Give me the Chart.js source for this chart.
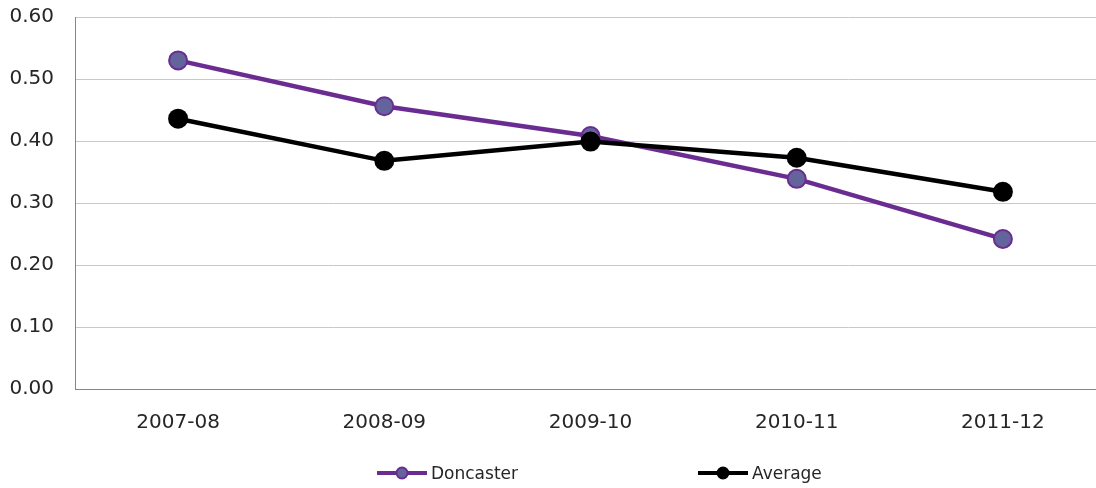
<!DOCTYPE html>
<html>
<head>
<meta charset="utf-8">
<script src="https://cdn.jsdelivr.net/npm/chart.js@4.4.1/dist/chart.umd.min.js"></script>
<style>
html, body { margin: 0; padding: 0; background: #fff; overflow: hidden; }
</style>
</head>
<body>
<canvas id="chart" width="1117" height="488"></canvas>
<script>
// Categories and series
const seasons = ['2007-08', '2008-09', '2009-10', '2010-11', '2011-12'];
const doncaster = [0.530, 0.456, 0.408, 0.339, 0.242];
const average = [0.436, 0.368, 0.399, 0.373, 0.318];
const yMin = 0;
const yMax = 0.6;
const yStep = 0.1;

const textColor = '#262626';
const axisFont = { family: '"DejaVu Sans", Verdana, sans-serif', size: 20 };

// Excel-style legend: line sample with a marker, label right after it
const legendKeys = {
    id: 'legendKeys',
    afterDraw(chart) {
        const ctx = chart.ctx;
        const y = 473;
        const starts = [377, 698];
        chart.data.datasets.forEach(function (ds, i) {
            const x = starts[i];
            ctx.save();
            ctx.strokeStyle = ds.borderColor;
            ctx.lineWidth = 4;
            ctx.beginPath();
            ctx.moveTo(x, y);
            ctx.lineTo(x + 50, y);
            ctx.stroke();
            ctx.beginPath();
            ctx.arc(x + 25, y, 5.5, 0, Math.PI * 2);
            ctx.fillStyle = ds.pointBackgroundColor;
            ctx.fill();
            ctx.lineWidth = 2;
            ctx.strokeStyle = ds.pointBorderColor;
            ctx.stroke();
            ctx.font = '17px "DejaVu Sans", Verdana, sans-serif';
            ctx.fillStyle = textColor;
            ctx.textBaseline = 'middle';
            ctx.fillText(ds.label, x + 54, y + 2);
            ctx.restore();
        });
    }
};

new Chart(document.getElementById('chart'), {
    type: 'line',
    data: {
        labels: seasons,
        datasets: [
            {
                label: 'Doncaster',
                data: doncaster,
                borderColor: '#6b2c91',
                borderWidth: 4.5,
                pointRadius: 9,
                pointBorderWidth: 2,
                pointBackgroundColor: '#64649c',
                pointBorderColor: '#6b2c91',
                tension: 0,
                order: 1
            },
            {
                label: 'Average',
                data: average,
                borderColor: '#000000',
                borderWidth: 4.5,
                pointRadius: 10,
                pointBorderWidth: 0,
                pointBackgroundColor: '#000000',
                pointBorderColor: '#000000',
                tension: 0,
                order: 0
            }
        ]
    },
    options: {
        responsive: false,
        animation: false,
        layout: { padding: { top: 0, right: 3, bottom: 53, left: 0 } },
        plugins: {
            legend: { display: false },
            tooltip: { enabled: false }
        },
        scales: {
            x: {
                offset: true,
                afterFit: function (scale) {
                    scale.height = 46;
                    scale.paddingLeft = 0;
                    scale.paddingRight = 0;
                },
                grid: { display: false, drawTicks: false },
                border: { display: true, color: '#868686', width: 1 },
                ticks: { color: textColor, font: axisFont, padding: 22, maxRotation: 0 }
            },
            y: {
                min: yMin,
                max: yMax,
                afterFit: function (scale) {
                    scale.width = 75;
                    scale.paddingTop = 17;
                    scale.paddingBottom = 0;
                },
                grid: { color: '#c8c8c8', lineWidth: 1, drawTicks: false },
                border: { display: true, color: '#868686', width: 1 },
                ticks: {
                    stepSize: yStep,
                    color: textColor,
                    font: axisFont,
                    padding: 21,
                    callback: function (value) { return value.toFixed(2); }
                }
            }
        }
    },
    plugins: [legendKeys]
});
</script>
</body>
</html>
